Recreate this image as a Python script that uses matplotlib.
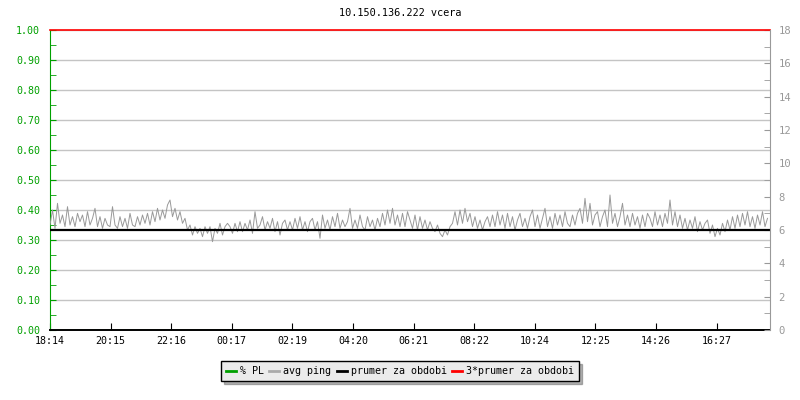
import numpy as np
import matplotlib
matplotlib.use("Agg")
import matplotlib.pyplot as plt
from matplotlib.ticker import MultipleLocator, FormatStrFormatter

plt.rcParams['font.family'] = ['DejaVu Sans Mono']
plt.rcParams['font.size'] = 7.2

title = "10.150.136.222 vcera"
tick_labels = ['18:14', '20:15', '22:16', '00:17', '02:19', '04:20',
               '06:21', '08:22', '10:24', '12:25', '14:26', '16:27']
tick_step = 1333 / 11     # minutes between time labels
step_min = 5              # one sample every 5 minutes
legend_names = ['% PL', 'avg ping', 'prumer za obdobi', '3*prumer za obdobi']

# avg ping [ms], one row per hour starting 18:14
avg_ping = [
    6.3, 7.2, 6.1, 7.6, 6.4, 6.9, 6.2, 7.4, 6.3, 6.8, 6.2, 7.0,
    6.5, 6.9, 6.2, 7.1, 6.3, 6.7, 7.3, 6.2, 6.8, 6.1, 6.7, 6.3,
    6.2, 7.4, 6.3, 6.1, 6.8, 6.2, 6.7, 6.1, 7.0, 6.3, 6.2, 6.8,
    6.3, 6.9, 6.4, 7.0, 6.3, 7.1, 6.5, 7.3, 6.6, 7.2, 6.7, 7.5,
    7.8, 6.8, 7.3, 6.6, 7.1, 6.4, 6.7, 6.0, 6.3, 5.7, 6.2, 5.8,
    6.1, 5.6, 6.2, 5.8, 6.2, 5.3, 6.1, 5.8, 6.4, 5.7, 6.2, 6.4,
    6.2, 5.8, 6.4, 5.9, 6.5, 5.9, 6.4, 6.0, 6.6, 5.8, 7.1, 6.1,
    6.3, 6.8, 6.0, 6.5, 6.1, 6.7, 5.9, 6.5, 5.7, 6.4, 6.6, 6.0,
    6.5, 6.0, 6.7, 6.1, 6.8, 6.0, 6.5, 5.9, 6.5, 6.7, 6.0, 6.5,
    5.5, 6.9, 6.1, 6.6, 6.0, 6.8, 6.2, 7.0, 6.1, 6.6, 6.2, 6.5,
    7.3, 6.1, 6.6, 6.1, 6.9, 6.2, 6.0, 6.8, 6.2, 6.6, 6.0, 6.7,
    6.2, 7.0, 6.3, 7.2, 6.4, 7.3, 6.3, 6.9, 6.2, 7.0, 6.2, 7.1,
    6.6, 6.1, 6.9, 6.0, 6.8, 6.1, 6.6, 6.0, 6.5, 6.1, 5.9, 6.3,
    5.8, 5.6, 6.0, 5.7, 6.2, 6.4, 7.1, 6.3, 7.2, 6.4, 7.3, 6.5,
    7.0, 6.2, 6.8, 6.1, 6.6, 6.0, 6.5, 6.8, 6.2, 6.9, 6.2, 7.1,
    6.3, 6.9, 6.1, 7.0, 6.2, 6.8, 6.0, 6.6, 7.0, 6.2, 6.7, 6.1,
    6.8, 7.2, 6.2, 6.9, 6.1, 6.7, 7.3, 6.2, 6.8, 6.1, 7.0, 6.3,
    6.9, 6.2, 7.1, 6.4, 6.2, 6.9, 6.3, 7.0, 7.3, 6.4, 7.9, 6.5,
    7.6, 6.3, 6.9, 7.1, 6.2, 6.8, 7.2, 6.2, 8.1, 6.4, 7.0, 6.2,
    6.8, 7.6, 6.3, 6.9, 6.2, 7.0, 6.3, 6.8, 6.1, 6.9, 6.2, 7.0,
    6.7, 6.2, 7.1, 6.3, 6.9, 6.2, 7.0, 6.4, 7.8, 6.3, 7.1, 6.2,
    6.9, 6.1, 6.7, 6.0, 6.6, 6.1, 6.8, 5.9, 6.5, 6.0, 6.4, 6.6,
    5.8, 6.3, 5.6, 6.1, 5.7, 6.4, 5.9, 6.6, 6.0, 6.8, 6.1, 6.9,
    6.2, 7.0, 6.3, 7.1, 6.2, 6.8, 6.1, 6.9, 6.3, 7.1, 6.2, 6.7,
]
packet_loss = [0.0] * len(avg_ping)   # % PL stays at zero all day
period_avg = 6.0                       # prumer za obdobi [ms]

green = '#00a000'
grey = '#999999'

t = np.arange(len(avg_ping)) * step_min
t_end = 1440

fig = plt.figure(figsize=(8, 4), dpi=100)
ax = fig.add_axes([50 / 800, 70 / 400, 720 / 800, 300 / 400])
ax2 = ax.twinx()

# left axis: packet loss
ax.set_ylim(0, 1)
ax.set_xlim(0, t_end)
ax.yaxis.set_major_locator(MultipleLocator(0.1))
ax.yaxis.set_minor_locator(MultipleLocator(0.05))
ax.yaxis.set_major_formatter(FormatStrFormatter('%.2f'))
ax.grid(axis='y', color='#c4c4c4', linewidth=1)
ax.set_axisbelow(True)
ax.tick_params(axis='y', which='both', direction='in', length=4,
               colors=green, labelcolor=green, pad=7)
ax.set_xticks([i * tick_step for i in range(len(tick_labels))])
ax.set_xticklabels(tick_labels)
ax.tick_params(axis='x', direction='in', length=5, pad=4, colors='black')
ax.spines['left'].set_color(green)
ax.spines['top'].set_visible(False)
ax.spines['right'].set_visible(False)
ax.spines['bottom'].set_linewidth(1.4)

# right axis: ping
ax2.set_ylim(0, 18)
ax2.yaxis.set_major_locator(MultipleLocator(2))
ax2.yaxis.set_minor_locator(MultipleLocator(1))
ax2.tick_params(axis='y', which='both', direction='in', length=4,
                colors=grey, labelcolor=grey, pad=6, labelsize=7.6)
ax2.spines['right'].set_color(grey)
ax2.spines['left'].set_visible(False)
ax2.spines['top'].set_visible(False)
ax2.spines['bottom'].set_visible(False)

ax.plot(t, packet_loss, color=green, linewidth=1, zorder=1)
ax2.plot(t, avg_ping, color=grey, linewidth=0.7)
ax2.axhline(period_avg, color='black', linewidth=1.6)
ax2.axhline(3 * period_avg, color='red', linewidth=1.2, clip_on=False)

fig.text(0.5, 1 - 13 / 400, title, ha='center', va='center', fontsize=7.4)

handles = [plt.Line2D([], [], color=c, linewidth=2)
           for c in (green, '#aaaaaa', 'black', 'red')]
leg = fig.legend(handles, legend_names, loc='center', ncol=4,
                 bbox_to_anchor=(0.5, 1 - 371 / 400), frameon=True,
                 fancybox=False, shadow={'color': '#666666'},
                 handlelength=1.0, handletextpad=0.4, columnspacing=0.55,
                 borderpad=0.5, fontsize=7.2)
leg.get_frame().set_facecolor('#ebebeb')
leg.get_frame().set_edgecolor('black')
leg.get_frame().set_alpha(1)

fig.savefig('out.png', dpi=100)
